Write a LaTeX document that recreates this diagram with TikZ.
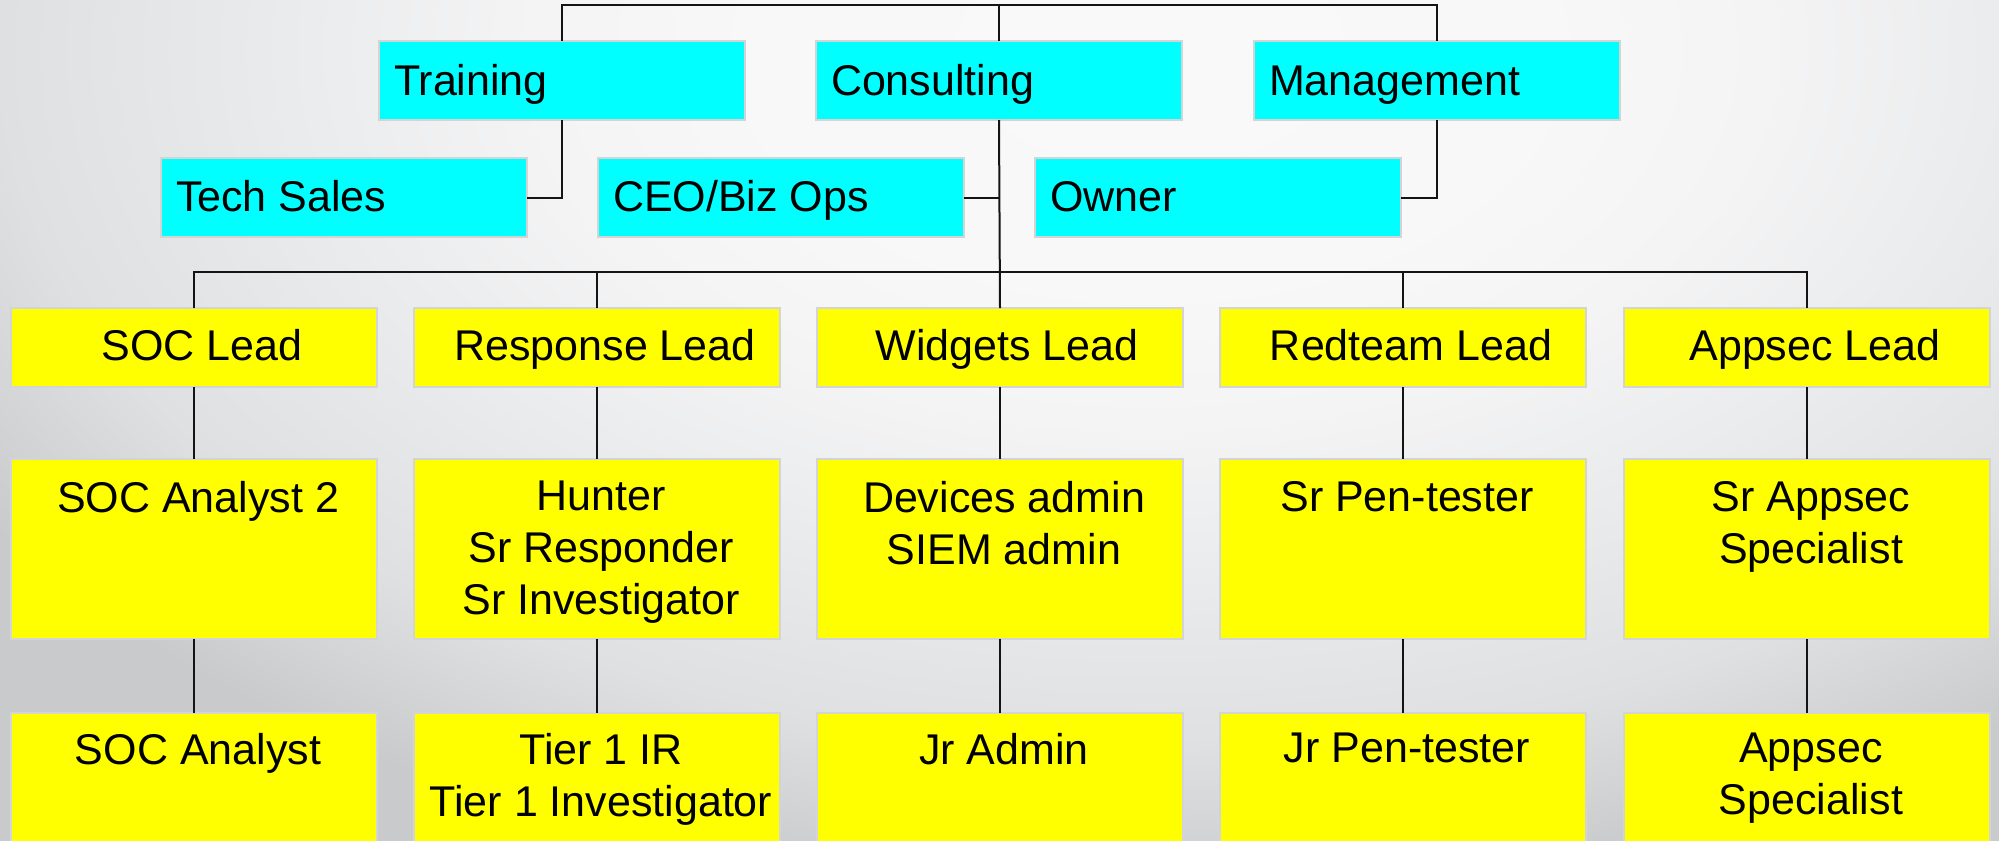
\documentclass[tikz,border=0pt]{standalone}
\usepackage{fontspec}
\newfontfamily\chartfont{Liberation Sans}
\usetikzlibrary{calc}

% page backdrop: pale centre fading to grey at the edges
\definecolor{bgA}{HTML}{F9F9FA}
\definecolor{bgB}{HTML}{F8F8F9}
\definecolor{bgC}{HTML}{F4F4F5}
\definecolor{bgD}{HTML}{EBECED}
\definecolor{bgE}{HTML}{DFE0E1}
\definecolor{bgF}{HTML}{D2D4D5}
\definecolor{bgG}{HTML}{C8CACB}
\definecolor{cyanfill}{HTML}{00FFFF}
\definecolor{yellowfill}{HTML}{FFFF00}
\definecolor{edgegray}{HTML}{D2D4D6}
\definecolor{linkcol}{HTML}{141414}

% the path's bounding box spans the inner 25bp radius of the shading
\pgfdeclareradialshading{backglow}{\pgfpoint{0bp}{0bp}}{%
  color(0bp)=(bgA); color(7bp)=(bgB); color(11bp)=(bgC);
  color(15bp)=(bgD); color(20.5bp)=(bgE); color(23bp)=(bgF);
  color(25bp)=(bgG); color(50bp)=(bgG)}

\begin{document}
\begin{tikzpicture}[x=0.5pt,y=-0.5pt,
  unitbox/.style={draw=edgegray, line width=0.6pt, inner sep=0pt,
    outer sep=0pt, anchor=north west, minimum width=183pt},
  deptbox/.style={unitbox, fill=cyanfill, minimum height=39.5pt},
  leadbox/.style={unitbox, fill=yellowfill, minimum height=39.5pt},
  seniorbox/.style={unitbox, fill=yellowfill, minimum height=90pt},
  juniorbox/.style={unitbox, fill=yellowfill, minimum height=80pt},
  txt/.style={inner sep=0pt, outer sep=0pt, align=center,
    font=\chartfont\fontsize{21.5pt}{26pt}\selectfont},
  deptlbl/.style={txt, anchor=base west},
  leadlbl/.style={txt, anchor=base},
  rolelbl/.style={txt, anchor=north},
  link/.style={draw=linkcol, line width=1pt}]

\useasboundingbox (0,0) rectangle (1999,841);
\clip (0,0) rectangle (1999,841);
\shade[shading=backglow] (-250,-800) rectangle (2550,900);

% departments
\node[deptbox] (train) at (379,41) {};
\node[deptbox] (cons)  at (816,41) {};
\node[deptbox] (mgmt)  at (1254,41) {};
\node[deptbox] (tech)  at (161,158) {};
\node[deptbox] (ceo)   at (598,158) {};
\node[deptbox] (owner) at (1035,158) {};

\node[deptlbl] (traint) at (394,95)  {Training};
\node[deptlbl] (const)  at (831,95)  {Consulting};
\node[deptlbl] (mgmtt)  at (1269,95) {Management};
\node[deptlbl] (techt)  at (176,211) {Tech Sales};
\node[deptlbl] (ceot)   at (613,211) {CEO/Biz Ops};
\node[deptlbl] (ownert) at (1050,211) {Owner};

% team leads
\node[leadbox] (soc)  at (11,308)   {};
\node[leadbox] (resp) at (414,308)  {};
\node[leadbox] (widg) at (817,308)  {};
\node[leadbox] (red)  at (1220,308) {};
\node[leadbox] (apps) at (1624,308) {};

\node[leadlbl] (soct)  at (202,360)  {SOC Lead};
\node[leadlbl] (respt) at (605,360)  {Response Lead};
\node[leadlbl] (widgt) at (1007,360) {Widgets Lead};
\node[leadlbl] (redt)  at (1411,360) {Redteam Lead};
\node[leadlbl] (appst) at (1815,360) {Appsec Lead};

% senior staff
\node[seniorbox] (soc2)  at (11,459)   {};
\node[seniorbox] (resp2) at (414,459)  {};
\node[seniorbox] (widg2) at (817,459)  {};
\node[seniorbox] (red2)  at (1220,459) {};
\node[seniorbox] (apps2) at (1624,459) {};

\node[rolelbl] (soc2t)  at (198,481)  {SOC Analyst 2};
\node[rolelbl] (resp2t) at (601,481)  {Hunter\\Sr Responder\\Sr Investigator};
\node[rolelbl] (widg2t) at (1004,481) {Devices admin\\SIEM admin};
\node[rolelbl] (red2t)  at (1407,481) {Sr Pen-tester};
\node[rolelbl] (apps2t) at (1811,481) {Sr Appsec\\Specialist};

% junior staff
\node[juniorbox] (soc3)  at (11,713)   {};
\node[juniorbox] (resp3) at (414,713)  {};
\node[juniorbox] (widg3) at (817,713)  {};
\node[juniorbox] (red3)  at (1220,713) {};
\node[juniorbox] (apps3) at (1624,713) {};

\node[rolelbl] (soc3t)  at (198,733)  {SOC Analyst};
\node[rolelbl] (resp3t) at (601,733)  {Tier 1 IR\\Tier 1 Investigator};
\node[rolelbl] (widg3t) at (1004,733) {Jr Admin};
\node[rolelbl] (red3t)  at (1407,733) {Jr Pen-tester};
\node[rolelbl] (apps3t) at (1811,733) {Appsec\\Specialist};

% upper tree
\draw[link] (train.north) -- ++(0,-36) -| (mgmt.north);
\draw[link] (cons.north) -- ++(0,-36);
\draw[link] (train.south) |- (tech.east);
\draw[link] (mgmt.south) |- (owner.east);
\draw[link] (cons.south) -- (widg.north);
\draw[link] (ceo.east) -- (ceo.east -| cons.south);

% lead bus
\draw[link] (soc.north) -- ++(0,-36) -| (apps.north);
\draw[link] (resp.north) -- ++(0,-36);
\draw[link] (red.north) -- ++(0,-36);

% reporting lines
\foreach \a/\b in {soc/soc2, resp/resp2, widg/widg2, red/red2, apps/apps2,
                   soc2/soc3, resp2/resp3, widg2/widg3, red2/red3, apps2/apps3}
  \draw[link] (\a.south) -- (\b.north);
\end{tikzpicture}
\end{document}
